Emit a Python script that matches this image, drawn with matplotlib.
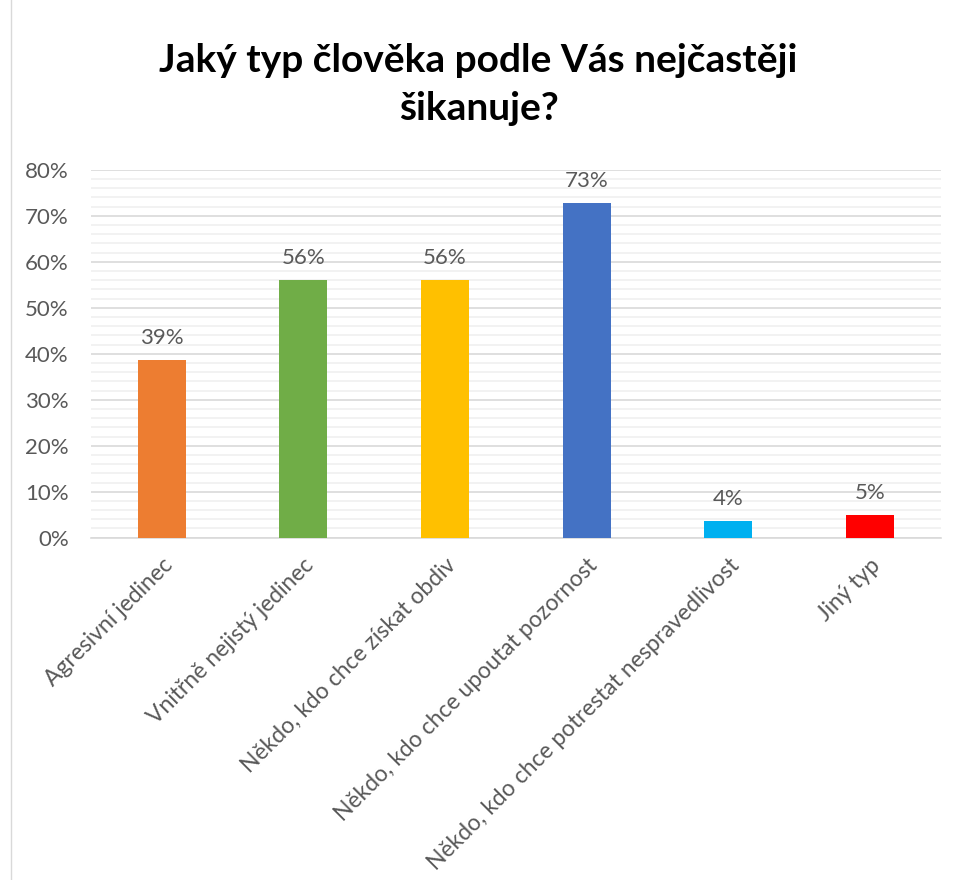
import matplotlib
matplotlib.use("Agg")
import matplotlib.pyplot as plt
from matplotlib.ticker import MultipleLocator, PercentFormatter
from matplotlib.patches import Rectangle

categories = ["Agresivní jedinec", "Vnitřně nejistý jedinec", "Někdo, kdo chce získat obdiv",
              "Někdo, kdo chce upoutat pozornost", "Někdo, kdo chce potrestat nespravedlivost", "Jiný typ"]
values = [38.7, 56.1, 56.1, 72.8, 3.7, 5.0]
labels = ["39%", "56%", "56%", "73%", "4%", "5%"]
colors = ["#ED7D31", "#70AD47", "#FFC000", "#4472C4", "#00B0F0", "#FF0000"]

plt.rcParams['font.family'] = ['Lato', 'DejaVu Sans']
txt = "#595959"

fig = plt.figure(figsize=(9.57, 8.8), dpi=100)
ax = fig.add_axes([0.095, 0.389, 0.888, 0.418])
x = list(range(len(categories)))
ax.bar(x, values, width=0.34, color=colors, zorder=3)
for xi, v, l in zip(x, values, labels):
    ax.text(xi, v + 2.6, l, ha='center', va='bottom', fontsize=16, color=txt)

ax.set_xlim(-0.5, len(categories) - 0.5)
ax.set_ylim(0, 80)
ax.yaxis.set_major_locator(MultipleLocator(10))
ax.yaxis.set_minor_locator(MultipleLocator(2))
ax.yaxis.set_major_formatter(PercentFormatter(decimals=0))
ax.grid(which='minor', axis='y', color='#F0F0F0', linewidth=1.2, zorder=0)
ax.grid(which='major', axis='y', color='#D9D9D9', linewidth=1.2, zorder=1)
for s in ['top', 'right', 'left']:
    ax.spines[s].set_visible(False)
ax.spines['bottom'].set_color('#D9D9D9')
ax.spines['bottom'].set_linewidth(1.2)
ax.tick_params(axis='both', which='both', length=0, colors=txt, labelsize=16)
ax.tick_params(axis='y', pad=16)
ax.tick_params(axis='x', pad=12)
ax.set_xticks(x)
ax.set_xticklabels(categories, rotation=45, ha='right', rotation_mode='anchor', fontsize=16.5, color=txt)

fig.text(0.5, 0.904, "Jaký typ člověka podle Vás nejčastěji\nšikanuje?", ha='center', va='center',
         fontsize=28, fontweight='bold', color='black', linespacing=1.45)

fig.patches.append(Rectangle((0.011, -0.01), 1.0, 1.02, transform=fig.transFigure,
                             fill=False, edgecolor='#D9D9D9', linewidth=1))
fig.savefig("out.png", dpi=100, facecolor='white')
